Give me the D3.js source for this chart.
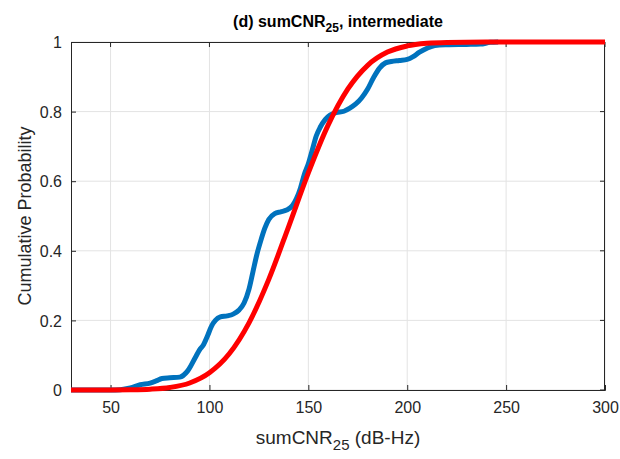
<!DOCTYPE html>
<html><head><meta charset="utf-8">
<script src="https://cdn.jsdelivr.net/npm/d3@7"></script>
<style>body{margin:0;background:#fff;} svg{display:block;}</style>
</head><body>
<svg id="chart" width="620" height="459"></svg>
<script>
const xTicks = [50, 100, 150, 200, 250, 300];
const yTicks = [0, 0.2, 0.4, 0.6, 0.8, 1];
const yTickLabels = ["0", "0.2", "0.4", "0.6", "0.8", "1"];
const empiricalX = [30,50,55,60,65,70,73,76,80,85,89,93,95,97,99,101,103,105.5,109,112,115,117.5,120,122,124,126,128,130,133,136,139,142,144,146,148,150,152,154,156,158.5,161,164,168,171,174,177,180,183,186,189,192,196,200,203,206,210,214,220,230,237,242,246];
const empiricalY = [0,0,0.001,0.006,0.015,0.02,0.026,0.033,0.035,0.037,0.055,0.095,0.115,0.13,0.155,0.183,0.2,0.21,0.213,0.218,0.23,0.25,0.29,0.34,0.39,0.43,0.465,0.49,0.507,0.512,0.517,0.53,0.55,0.58,0.62,0.65,0.69,0.73,0.755,0.777,0.79,0.797,0.801,0.81,0.822,0.84,0.865,0.898,0.925,0.94,0.944,0.947,0.95,0.958,0.97,0.982,0.99,0.992,0.993,0.994,0.999,1];
// fitted CDF (red)
const fitX = [30,50,60,70,80,90,100,110,120,130,140,150,160,170,180,190,200,210,220,240,270,300];
const fitY = [0,0.0001,0.0006,0.0023,0.0073,0.0202,0.0495,0.104,0.193,0.318,0.469,0.624,0.761,0.865,0.933,0.971,0.9887,0.9963,0.9989,0.9999,1,1];

const svg = d3.select("#chart");
const L = 71, R = 605, T = 42, B = 390;
const x = d3.scaleLinear().domain([30, 300]).range([L, R]);
const y = d3.scaleLinear().domain([0, 1]).range([B, T]);
const txt = "#262626";
const font = "'Liberation Sans', Arial, sans-serif";

// grid
svg.append("g").selectAll("line.gx").data(xTicks).join("line")
  .attr("x1", d => x(d)).attr("x2", d => x(d)).attr("y1", T).attr("y2", B)
  .attr("stroke", "#e3e3e3").attr("stroke-width", 1);
svg.append("g").selectAll("line.gy").data(yTicks).join("line")
  .attr("x1", L).attr("x2", R).attr("y1", d => y(d)).attr("y2", d => y(d))
  .attr("stroke", "#e3e3e3").attr("stroke-width", 1);

// axes (ticks inward)
const xAxis = d3.axisBottom(x).tickValues(xTicks).tickSize(-5).tickPadding(12).tickFormat(d3.format("d"));
const yAxis = d3.axisLeft(y).tickValues(yTicks).tickSize(-5).tickPadding(9).tickFormat((d, i) => yTickLabels[i]);
const gx = svg.append("g").attr("transform", `translate(0,${B})`).call(xAxis);
const gy = svg.append("g").attr("transform", `translate(${L},0)`).call(yAxis);
[gx, gy].forEach(g => {
  g.select(".domain").attr("stroke", txt).attr("stroke-width", 1);
  g.selectAll(".tick line").attr("stroke", txt);
  g.selectAll(".tick text").attr("fill", txt).style("font-family", font).style("font-size", "16px");
});
gy.selectAll(".tick text").attr("dy", "0.36em");
// top and right box lines with ticks
svg.append("line").attr("x1", L).attr("x2", R).attr("y1", T + 0.5).attr("y2", T + 0.5).attr("stroke", txt);
svg.append("line").attr("x1", R - 0.5).attr("x2", R - 0.5).attr("y1", T).attr("y2", B).attr("stroke", txt);
svg.append("g").selectAll("line").data(xTicks).join("line")
  .attr("x1", d => x(d)).attr("x2", d => x(d)).attr("y1", T).attr("y2", T + 5).attr("stroke", txt);
svg.append("g").selectAll("line").data(yTicks).join("line")
  .attr("x1", R - 5).attr("x2", R).attr("y1", d => y(d)).attr("y2", d => y(d)).attr("stroke", txt);

// lines
const line = d3.line().x(d => x(d[0])).y(d => y(d[1])).curve(d3.curveMonotoneX);
const emp = empiricalX.map((v, i) => [v, empiricalY[i]]);
const fit = fitX.map((v, i) => [v, fitY[i]]);
svg.append("path").datum(emp).attr("d", line).attr("fill", "none")
  .attr("stroke", "#0072BD").attr("stroke-width", 5).attr("stroke-linejoin", "round").attr("stroke-linecap", "butt");
svg.append("path").datum(fit).attr("d", line).attr("fill", "none")
  .attr("stroke", "#FF0000").attr("stroke-width", 5).attr("stroke-linejoin", "round").attr("stroke-linecap", "butt");

// title
const title = svg.append("text").attr("x", (L + R) / 2).attr("y", 27).attr("text-anchor", "middle")
  .attr("fill", "#000").style("font-family", font).style("font-size", "16px").style("font-weight", "bold");
title.append("tspan").text("(d) sumCNR");
title.append("tspan").attr("dy", 5).style("font-size", "12px").text("25");
title.append("tspan").attr("dy", -5).text(", intermediate");

// x label
const xl = svg.append("text").attr("x", (L + R) / 2).attr("y", 444).attr("text-anchor", "middle")
  .attr("fill", txt).style("font-family", font).style("font-size", "19px");
xl.append("tspan").text("sumCNR");
xl.append("tspan").attr("dy", 6).style("font-size", "15px").text("25");
xl.append("tspan").attr("dy", -6).text(" (dB-Hz)");

// y label
svg.append("text").attr("transform", `translate(31,${(T + B) / 2}) rotate(-90)`).attr("text-anchor", "middle")
  .attr("fill", txt).style("font-family", font).style("font-size", "18px").text("Cumulative Probability");
</script>
</body></html>
